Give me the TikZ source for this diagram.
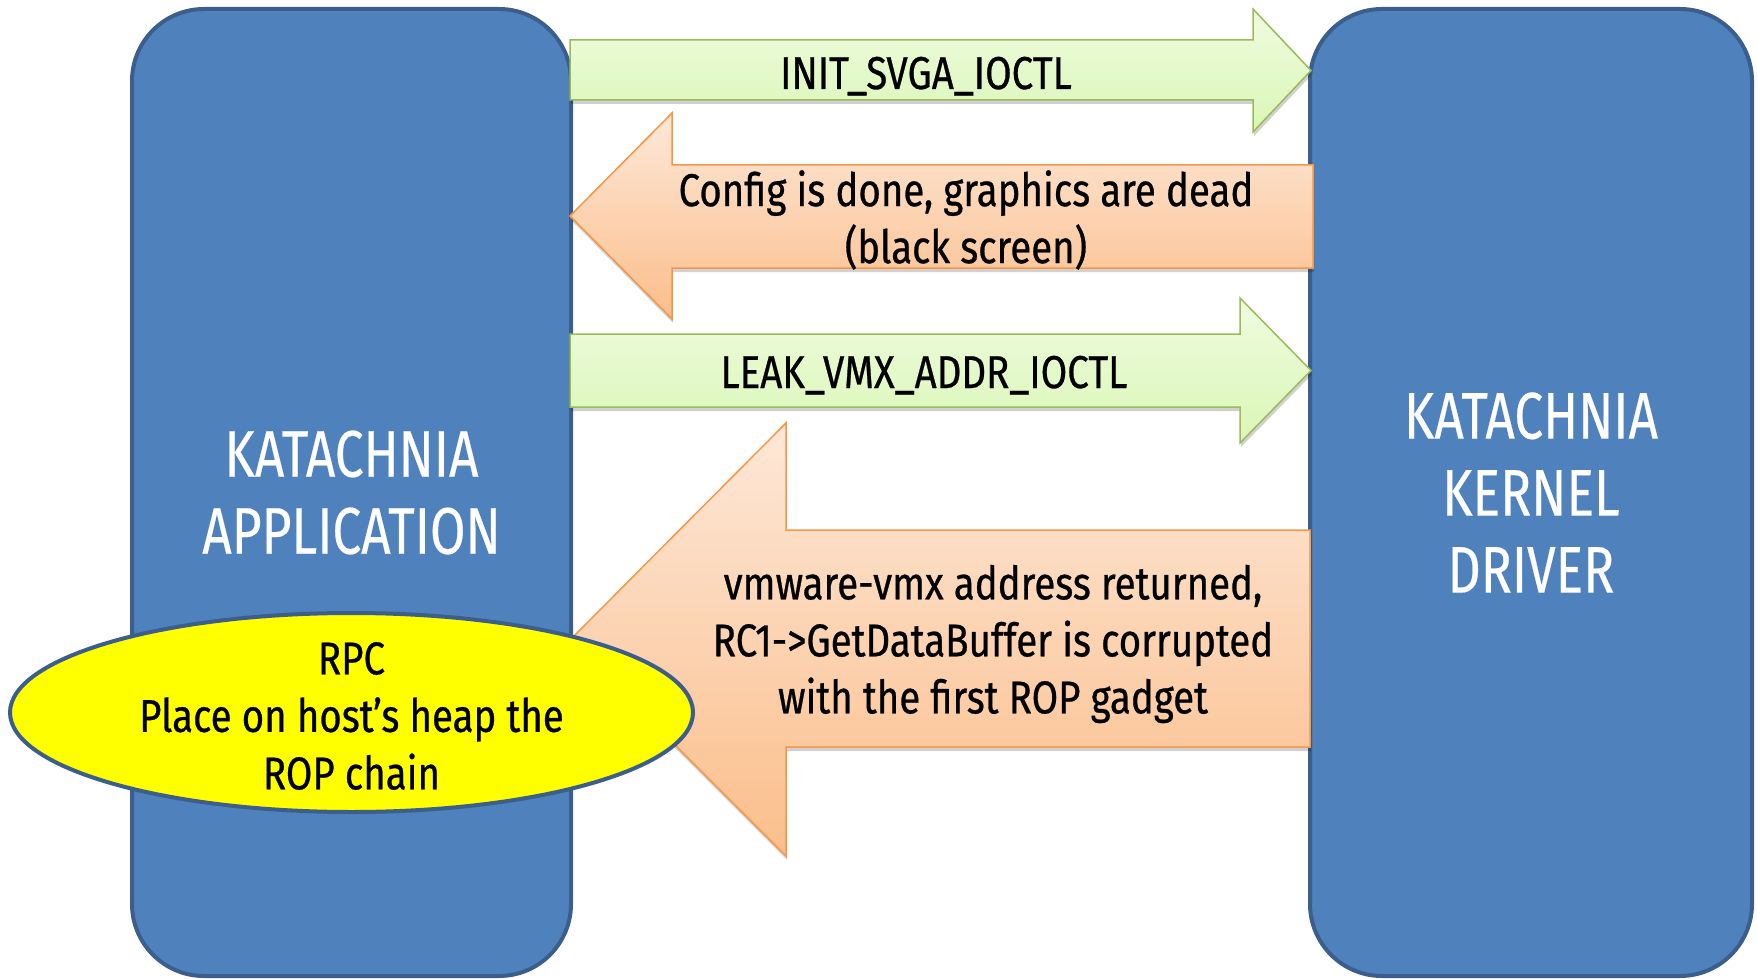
\documentclass[tikz,border=0pt]{standalone}
\usepackage{fontspec}
\setmainfont[FakeStretch=0.78]{Fira Sans}
\newfontfamily\lanefont[FakeStretch=0.78,FakeBold=0.3]{Fira Sans}
\newfontfamily\msgfont[FakeStretch=0.835,FakeBold=0.6]{Fira Sans}
\usetikzlibrary{shapes.geometric,shadows}

\definecolor{laneblue}{HTML}{4F81BD}
\definecolor{laneedge}{HTML}{3B5E8C}
\definecolor{grnedge}{HTML}{9BBB59}
\definecolor{grntop}{HTML}{EFFCDF}
\definecolor{grnbot}{HTML}{DAF6B6}
\definecolor{orgedge}{HTML}{F79646}
\definecolor{orgtop}{HTML}{FDE8D8}
\definecolor{orgbot}{HTML}{FBBE8B}
\definecolor{notefill}{HTML}{FFFF00}

\tikzset{
  lane/.style={draw=laneedge, line width=4pt, fill=laneblue,
    rounded corners=72pt, inner sep=0pt, text=white, align=center,
    font=\lanefont\fontsize{66}{77}\selectfont},
  softshadow/.style={drop shadow={shadow xshift=1pt, shadow yshift=-4pt,
    opacity=0.18, fill=black}},
  sendarrow/.style={draw=grnedge, line width=1.5pt, line join=miter,
    top color=grntop, bottom color=grnbot, softshadow},
  replyarrow/.style={draw=orgedge, line width=1.5pt, line join=miter,
    top color=orgtop, bottom color=orgbot, softshadow},
  msg/.style={inner sep=0pt, text=black, align=center,
    font=\msgfont\fontsize{46}{57}\selectfont},
  rpcnote/.style={ellipse, draw=laneedge, line width=4pt, fill=notefill,
    inner sep=0pt, minimum width=683pt, minimum height=199pt}
}

\begin{document}
\begin{tikzpicture}[x=1pt,y=-1pt]
\useasboundingbox (0,0) rectangle (1757,979);

% the two lanes
\node[lane, minimum width=439pt, minimum height=967pt] (app) at (351.5,492.5)
  {KATACHNIA\\APPLICATION};
\node[lane, minimum width=442pt, minimum height=967pt] (drv) at (1531,492.5)
  {KATACHNIA\\KERNEL\\DRIVER};

% block arrows between the lanes
\draw[sendarrow] (570,40) -- (1253,40) -- (1253,9) -- (1311,70.5)
  -- (1253,132) -- (1253,100) -- (570,100) -- cycle;
\draw[replyarrow] (1313,165) -- (672,165) -- (672,113) -- (570,216)
  -- (672,319) -- (672,268) -- (1313,268) -- cycle;
\draw[sendarrow] (570,334) -- (1240,334) -- (1240,298) -- (1311,370.5)
  -- (1240,443) -- (1240,407) -- (570,407) -- cycle;
\draw[replyarrow] (1310,530) -- (786,530) -- (786,423) -- (570,640)
  -- (786,856) -- (786,747) -- (1310,747) -- cycle;

% arrow labels
\node[msg, anchor=base] (init) at (926,89) {INIT\_SVGA\_IOCTL};
\node[msg] (cfg) at (966,220) {Config is done, graphics are dead\\(black screen)};
\node[msg, anchor=base] (leak) at (924,388) {LEAK\_VMX\_ADDR\_IOCTL};
\node[msg] (ret) at (993,644)
  {vmware-vmx address returned,\\RC1->GetDataBuffer is corrupted\\with the first ROP gadget};

% RPC note over the application lane
\node[rpcnote] (rpc) at (351.5,712.5) {};
\node[msg, font=\msgfont\fontsize{46}{57.5}\selectfont] (rpctext)
  at ([yshift=-3.5pt]rpc.center) {RPC\\Place on host’s heap the\\ROP chain};
\end{tikzpicture}
\end{document}
